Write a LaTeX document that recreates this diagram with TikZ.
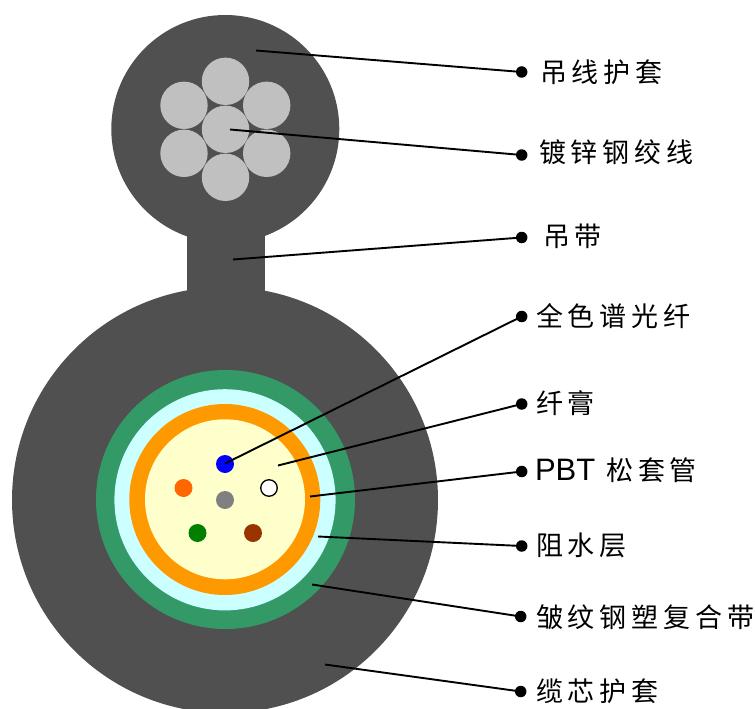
\documentclass[tikz,border=0pt]{standalone}
\usepackage{fontspec}
\setmainfont{Liberation Sans}
\newfontfamily\cjk[LetterSpace=18]{Noto Sans CJK SC}
\definecolor{sheath}{HTML}{505050}
\definecolor{strand}{HTML}{C0C0C0}
\definecolor{armor}{HTML}{339966}
\definecolor{barrier}{HTML}{CCFFFF}
\definecolor{tube}{HTML}{FF9900}
\definecolor{gel}{HTML}{FFFFCC}
\definecolor{forange}{HTML}{FF6600}
\definecolor{fgray}{HTML}{808080}
\definecolor{fgreen}{HTML}{008000}
\definecolor{fbrown}{HTML}{993300}
\definecolor{fblue}{HTML}{0000FF}
\tikzset{
  lbl/.style={anchor=west,inner sep=0pt,outer sep=0pt,font=\fontsize{27}{31}\selectfont\cjk,text=black},
  enddot/.style={circle,fill=black,inner sep=0pt,minimum size=11.5pt},
  leader/.style={draw=black,line width=1.9pt},
  wire/.style={fill=strand},
  fibre/.style={circle,inner sep=0pt,minimum size=18pt},
}
\begin{document}
\begin{tikzpicture}[x=1pt,y=-1pt]
\useasboundingbox (0,0) rectangle (755,709);
\clip (0,0) rectangle (755,709);
% sheaths
\fill[sheath] (225.3,129) circle (114);
\fill[sheath] (187,200) rectangle (264.5,320);
\fill[sheath] (225,500) circle (213);
% messenger wire
\foreach \x/\y in {225.5/81.3,184/105.3,266.7/105.3,225.5/129.3,184/153.3,266.7/153.3,225.5/177.3}
  \fill[wire] (\x,\y) circle (23.7);
% core layers
\fill[armor] (225.5,499.5) circle (129.5);
\fill[barrier] (225,499.8) circle (110.6);
\fill[tube] (224.8,499.5) circle (95.5);
\fill[gel] (225,499.3) circle (80);
% fibres
\node[fibre,fill=fblue] (fb) at (225,464) {};
\node[fibre,fill=forange] (fo) at (183.5,488) {};
\node[fibre,fill=white,draw=black,line width=1.3pt,minimum size=16.5pt] (fw) at (269,488) {};
\node[fibre,fill=fgray] (fg) at (225,500) {};
\node[fibre,fill=fgreen] (fn) at (197.5,533) {};
\node[fibre,fill=fbrown] (fr) at (253,533) {};
% leader start points
\coordinate (s1) at (256,50.5);
\coordinate (s2) at (230,129.5);
\coordinate (s3) at (233,259.5);
\coordinate (s4) at (225,463.5);
\coordinate (s5) at (278,465.5);
\coordinate (s6) at (310,496.5);
\coordinate (s7) at (318,536.5);
\coordinate (s8) at (312,584.5);
\coordinate (s9) at (325,664.5);
% leader end dots
\node[enddot] (d1) at (521.7,72) {};
\node[enddot] (d2) at (521.7,155) {};
\node[enddot] (d3) at (521.7,237.5) {};
\node[enddot] (d4) at (521.7,316.5) {};
\node[enddot] (d5) at (521.7,404) {};
\node[enddot] (d6) at (521.7,471.5) {};
\node[enddot] (d7) at (521.7,546) {};
\node[enddot] (d8) at (520.7,616.5) {};
\node[enddot] (d9) at (520.7,691.5) {};
\foreach \i in {1,...,9} \draw[leader] (s\i) -- (d\i.center);
% labels
\node[lbl] (t1) at (540,72) {吊线护套};
\node[lbl] (t2) at (539,152) {镀锌钢绞线};
\node[lbl] (t3) at (543,236) {吊带};
\node[lbl] (t4) at (536,316) {全色谱光纤};
\node[lbl] (t5) at (536,403) {纤膏};
\node[lbl] (t6) at (535,470.5) {{\fontsize{31}{34}\selectfont\rmfamily PBT} 松套管};
\node[lbl] (t7) at (536,545) {阻水层};
\node[lbl] (t8) at (536,617) {皱纹钢塑复合带};
\node[lbl] (t9) at (536,691) {缆芯护套};
\end{tikzpicture}
\end{document}
